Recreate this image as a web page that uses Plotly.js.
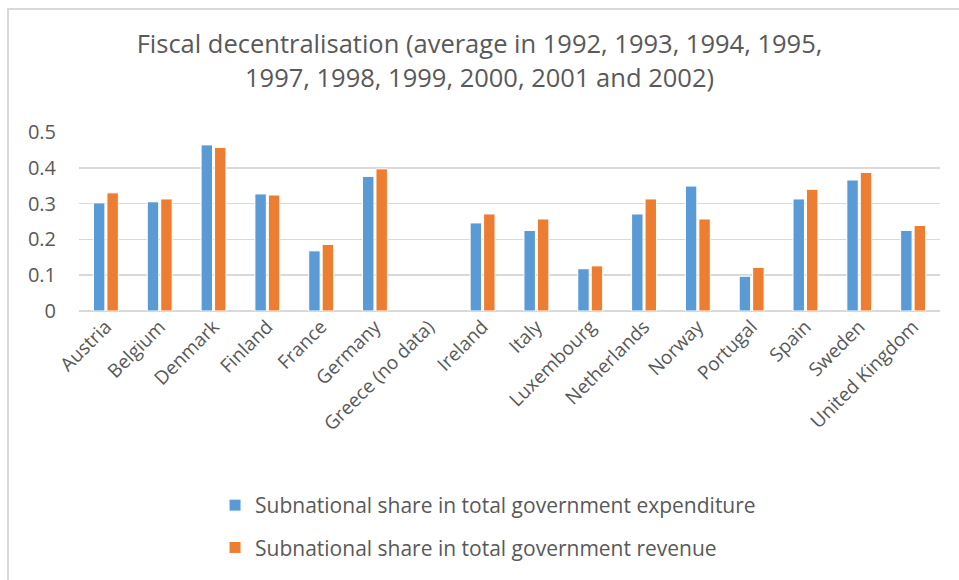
<!DOCTYPE html>
<html>
<head>
<meta charset="utf-8">
<script src="https://cdn.plot.ly/plotly-3.0.1.min.js"></script>
<style>
  html, body { margin: 0; padding: 0; background: #fff; }
  #chart { width: 959px; height: 580px; }
  #frame { position: absolute; left: 7px; top: 8px; width: 960px; height: 580px;
           border-left: 2px solid #d9d9d9; border-top: 2px solid #d9d9d9; pointer-events: none; }
</style>
</head>
<body>
<div id="chart"></div>
<div id="frame"></div>
<script>
const categories = ["Austria", "Belgium", "Denmark", "Finland", "France", "Germany",
  "Greece (no data)", "Ireland", "Italy", "Luxembourg", "Netherlands", "Norway",
  "Portugal", "Spain", "Sweden", "United Kingdom"];
const expenditure = [0.302, 0.305, 0.464, 0.327, 0.168, 0.376, null, 0.246, 0.225, 0.118,
  0.271, 0.349, 0.097, 0.313, 0.366, 0.225];
const revenue = [0.330, 0.313, 0.457, 0.324, 0.186, 0.397, null, 0.271, 0.257, 0.126,
  0.313, 0.257, 0.122, 0.340, 0.387, 0.239];
const seriesNames = ["Subnational share in total government expenditure",
  "Subnational share in total government revenue"];
const yTicks = [0, 0.1, 0.2, 0.3, 0.4, 0.5];
const yTickText = ["0", "0.1", "0.2", "0.3", "0.4", "0.5"];

const FONT = "Open Sans, sans-serif";
const GREY = "#595959";

const traces = [
  { type: "bar", x: categories, y: expenditure, name: seriesNames[0], legendgroup: "a",
    marker: { color: "#5B9BD5", line: { color: "#ffffff", width: 1 } } },
  { type: "bar", x: categories, y: revenue, name: seriesNames[1], legendgroup: "b",
    marker: { color: "#ED7D31", line: { color: "#ffffff", width: 1 } } }
];

const layout = {
  width: 959, height: 580,
  margin: { l: 79, r: 19, t: 132, b: 266 },
  paper_bgcolor: "#ffffff", plot_bgcolor: "#ffffff",
  barmode: "group", bargap: 0.5, bargroupgap: 0.15,
  title: {
    text: "Fiscal decentralisation (average in 1992, 1993, 1994, 1995,<br>1997, 1998, 1999, 2000, 2001 and 2002)",
    font: { family: FONT, size: 25.5, color: GREY },
    x: 0.5, xanchor: "center", y: 0.908, yanchor: "top"
  },
  xaxis: {
    type: "category", tickangle: -45, showgrid: false, zeroline: false,
    ticks: "", showline: false,
    tickfont: { family: FONT, size: 19, color: GREY }
  },
  yaxis: {
    range: [0, 0.5], tickvals: yTicks, ticktext: yTickText,
    showgrid: true, gridcolor: "#d9d9d9", gridwidth: 1.5,
    zeroline: true, zerolinecolor: "#d9d9d9", zerolinewidth: 1.5,
    showline: false, ticks: "", ticklabelstandoff: 22,
    tickfont: { family: FONT, size: 20, color: GREY }
  },
  showlegend: true,
  legend: {
    orientation: "v", traceorder: "grouped", tracegroupgap: 12,
    x: 0.158, xanchor: "left", y: -0.972, yanchor: "top",
    font: { family: FONT, size: 21, color: GREY },
    bgcolor: "rgba(0,0,0,0)"
  }
};

Plotly.newPlot("chart", traces, layout, { displayModeBar: false, staticPlot: true });
</script>
</body>
</html>
